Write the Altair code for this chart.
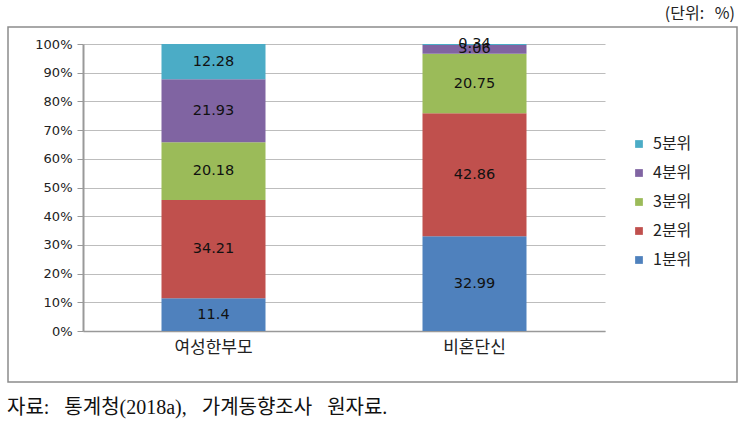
import altair as alt
import pandas as pd

groups = ["여성한부모", "비혼단신"]
quintiles = ["1분위", "2분위", "3분위", "4분위", "5분위"]
values_female_single_parent = [11.4, 34.21, 20.18, 21.93, 12.28]
values_unmarried_single = [32.99, 42.86, 20.75, 3.06, 0.34]
colors = ["#4F81BD", "#C0504D", "#9BBB59", "#8064A2", "#4BACC6"]
y_ticks = [0, 0.1, 0.2, 0.3, 0.4, 0.5, 0.6, 0.7, 0.8, 0.9, 1.0]

rows = []
for g, vals in zip(groups, [values_female_single_parent, values_unmarried_single]):
    for i, (q, v) in enumerate(zip(quintiles, vals)):
        rows.append({"group": g, "quintile": q, "value": v, "order": i})
df = pd.DataFrame(rows)

W, H = 522, 287
FONT_KR = "Noto Sans CJK KR"
NB = "\u00a0"

x_axis = alt.Axis(labelAngle=0, labelFont=FONT_KR, labelFontSize=17,
                  labelColor="#222", labelPadding=8, ticks=False,
                  domainColor="#999", domainWidth=1.5)
y_axis = alt.Axis(values=y_ticks, format=".0%", labelFont="DejaVu Sans",
                  labelFontSize=13, labelColor="#222", tickSize=6,
                  tickColor="#999", domainColor="#999", domainWidth=2,
                  gridColor="#BDBDBD", labelPadding=5, labelOverlap=False)
y_scale = alt.Scale(domain=[0, 1], nice=False)

base = alt.Chart(df)

bars = base.mark_bar(size=104).encode(
    x=alt.X("group:N", sort=groups, title=None, axis=x_axis),
    y=alt.Y("value:Q", stack="normalize", title=None, scale=y_scale, axis=y_axis),
    color=alt.Color("quintile:N",
                    scale=alt.Scale(domain=quintiles[::-1], range=colors[::-1]),
                    legend=alt.Legend(title=None, orient="none", legendX=548, legendY=92,
                                      symbolType="square", symbolSize=60,
                                      symbolStrokeWidth=0,
                                      labelFont=FONT_KR, labelFontSize=16,
                                      labelColor="#222", rowPadding=13, labelOffset=6)),
    order=alt.Order("order:Q"),
)

labels = base.transform_window(
    cum="sum(value)", sort=[alt.SortField("order")], groupby=["group"]
).transform_joinaggregate(
    total="sum(value)", groupby=["group"]
).transform_calculate(
    mid="(datum.cum - datum.value/2)/datum.total"
).mark_text(font="DejaVu Sans", fontSize=14.5, color="#111").encode(
    x=alt.X("group:N", sort=groups, title=None, axis=x_axis),
    y=alt.Y("mid:Q", title=None, scale=y_scale, axis=y_axis),
    text=alt.Text("value:Q"),
)

deco = pd.DataFrame({"k": [0]})
border = alt.Chart(deco).mark_rect(fill=None, stroke="#8C8C8C", strokeWidth=1.5).encode(
    x=alt.value(-75), x2=alt.value(654), y=alt.value(-17), y2=alt.value(338)
)
unit = alt.Chart(deco).mark_text(font=FONT_KR, fontSize=16, align="right",
                                 baseline="middle", color="#222").encode(
    x=alt.value(652), y=alt.value(-30), text=alt.value("(단위:" + NB * 3 + "%)")
)
source = alt.Chart(deco).mark_text(font="Liberation Serif, " + FONT_KR, fontSize=20,
                                   align="left", baseline="middle", color="#111").encode(
    x=alt.value(-76), y=alt.value(364),
    text=alt.value("자료:" + NB * 3 + "통계청(2018a)," + NB * 3 + "가계동향조사" + NB * 3 + "원자료.")
)

chart = alt.layer(bars, labels, border, unit, source).properties(
    width=W, height=H,
    autosize=alt.AutoSizeParams(type="none"),
    padding={"left": 83, "top": 44, "right": 136, "bottom": 95},
).configure_view(stroke=None)

chart.save("out.html", embed_options={"renderer": "svg", "actions": False})
